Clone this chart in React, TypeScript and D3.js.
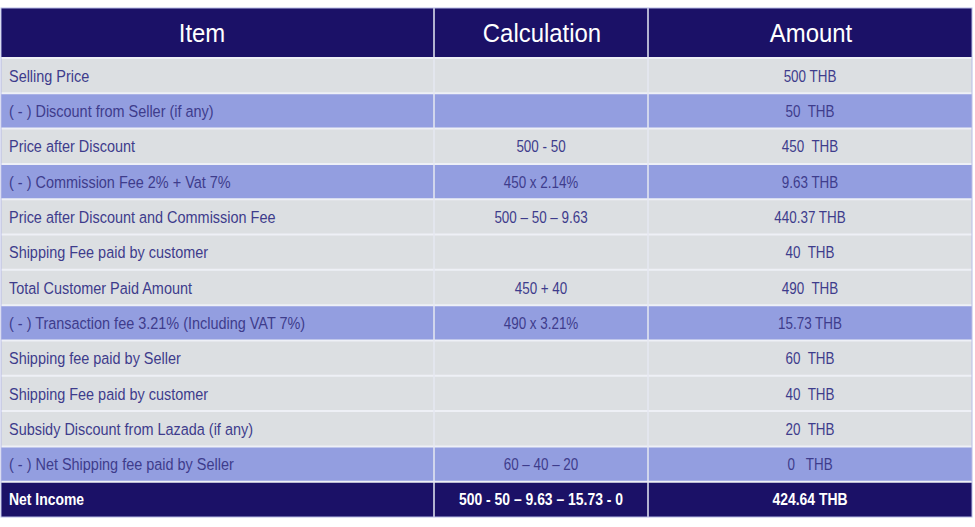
import React from "react";
import * as d3 from "d3";

const headers = ["Item", "Calculation", "Amount"];
const items = [
  "Selling Price",
  "( - ) Discount from Seller (if any)",
  "Price after Discount",
  "( - ) Commission Fee 2% + Vat 7%",
  "Price after Discount and Commission Fee",
  "Shipping Fee paid by customer",
  "Total Customer Paid Amount",
  "( - ) Transaction fee 3.21% (Including VAT 7%)",
  "Shipping fee paid by Seller",
  "Shipping Fee paid by customer",
  "Subsidy Discount from Lazada (if any)",
  "( - ) Net Shipping fee paid by Seller",
  "Net Income",
];
const calculations = [
  "",
  "",
  "500 - 50",
  "450 x 2.14%",
  "500 \u2013 50 \u2013 9.63",
  "",
  "450 + 40",
  "490 x 3.21%",
  "",
  "",
  "",
  "60 \u2013 40 \u2013 20",
  "500 - 50 \u2013 9.63 \u2013 15.73 - 0",
];
const amounts = [
  "500 THB",
  "50  THB",
  "450  THB",
  "9.63 THB",
  "440.37 THB",
  "40  THB",
  "490  THB",
  "15.73 THB",
  "60  THB",
  "40  THB",
  "20  THB",
  "0   THB",
  "424.64 THB",
];
// row kinds: 0 = light, 1 = highlighted deduction, 2 = total
const rowKinds = [0, 1, 0, 1, 0, 0, 0, 1, 0, 0, 0, 1, 2];

const W = 975;
const H = 527;
const left = 1;
const right = 972;
const top = 8;
const headerBottom = 58;
const bottom = 517;
const colEdges = [left, 434, 648, right];
const headerX = [202, 542, 811];

const FONT = "'Liberation Sans Narrow', 'Arial Narrow', 'Liberation Sans', Arial, sans-serif";
const fills = ["#dcdfe2", "#939ee0", "#1b1167"];
const textColors = ["#3e3c8c", "#3e3c8c", "#ffffff"];
const colSX = [0.85, 0.79, 0.79];
const BOLD_SX = 0.82;
const HSX = 0.92;

export default function App() {
  const y = d3
    .scaleBand<number>()
    .domain(d3.range(items.length))
    .range([headerBottom, bottom])
    .paddingInner(0);
  const rowH = y.bandwidth();
  const cols = [items, calculations, amounts];

  return (
    <svg
      width={W}
      height={H}
      style={{ position: "absolute", left: 0, top: 0, background: "#fff" }}
    >
      {/* header */}
      <rect x={left} y={top} width={right - left} height={headerBottom - top} fill="#1b1167" />
      {headers.map((h, i) => (
        <text
          key={h}
          transform={`translate(${headerX[i]},${(top + headerBottom) / 2}) scale(${HSX},1)`}
          dy="0.36em"
          textAnchor="middle"
          fill="#fff"
          fontFamily={FONT}
          fontSize={26}
        >
          {h}
        </text>
      ))}
      {/* body rows */}
      {items.map((_, r) => {
        const k = rowKinds[r];
        const ry = y(r)!;
        return (
          <g key={r}>
            <rect x={left} y={ry} width={right - left} height={rowH} fill={fills[k]} />
            {cols.map((col, c) => {
              const txt = col[r];
              if (!txt) return null;
              const isLeft = c === 0;
              const tx = isLeft ? colEdges[0] + 8 : (colEdges[c] + colEdges[c + 1]) / 2;
              const sx = k === 2 ? BOLD_SX : colSX[c];
              return (
                <text
                  key={c}
                  transform={`translate(${tx},${ry + rowH / 2}) scale(${sx},1)`}
                  dy="0.36em"
                  textAnchor={isLeft ? "start" : "middle"}
                  fill={textColors[k]}
                  fontFamily={FONT}
                  fontSize={17}
                  fontWeight={k === 2 ? "bold" : "normal"}
                  style={{ whiteSpace: "pre" }}
                >
                  {txt}
                </text>
              );
            })}
          </g>
        );
      })}
      {/* horizontal separators */}
      {d3.range(items.length).map((r) => (
        <line
          key={"h" + r}
          x1={left}
          x2={right}
          y1={y(r)!}
          y2={y(r)!}
          stroke="#eef0f6"
          strokeWidth={2}
        />
      ))}
      {/* vertical separators */}
      {colEdges.slice(1, -1).map((cx, i) => (
        <line
          key={"v" + i}
          x1={cx}
          x2={cx}
          y1={top}
          y2={bottom}
          stroke="#e6e8f2"
          strokeWidth={1.5}
        />
      ))}
      {/* outer border */}
      <rect
        x={left}
        y={top}
        width={right - left}
        height={bottom - top}
        fill="none"
        stroke="#b8bce6"
        strokeWidth={1}
      />
    </svg>
  );
}
